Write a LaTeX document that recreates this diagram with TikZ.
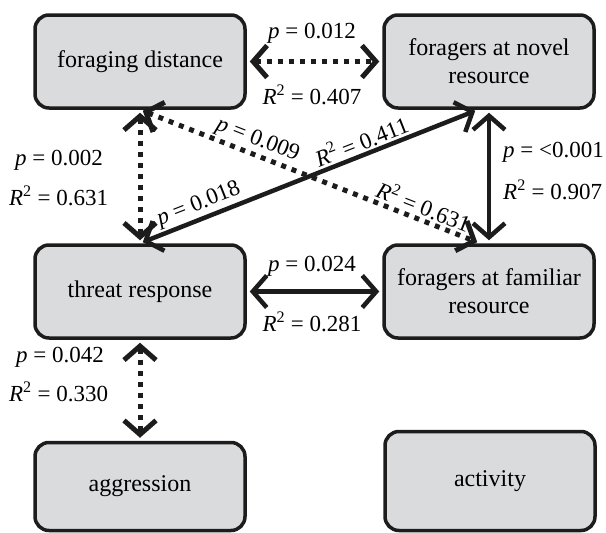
\documentclass[tikz,border=0pt]{standalone}
\usepackage{fontspec}
\setmainfont{Liberation Serif}
\usetikzlibrary{arrows.meta}
\definecolor{boxgray}{HTML}{DADBDD}
\definecolor{inkblack}{HTML}{1C1C1C}
\tikzset{
  pa/box/.style={draw=inkblack, line width=3.5pt, fill=boxgray, rounded corners=14pt, minimum width=210pt, minimum height=93pt, align=center, font=\fontsize{24}{28}\selectfont},
  pa/link/.style={line width=4.5pt, draw=inkblack, shorten <=3pt, shorten >=3pt, {Straight Barb[length=14pt,width=32pt]}-{Straight Barb[length=14pt,width=32pt]}},
  pa/dotlink/.style={pa/link, line width=5pt, dash pattern=on 5pt off 6pt},
  pa/stat/.style={font=\fontsize{23}{25}\selectfont, inner sep=1pt},
  pa/slopestat/.style={pa/stat, sloped, above, inner sep=2pt}
}
\newcommand{\pval}[1]{\textit{p} = #1}
\newcommand{\rsq}[1]{\textit{R}\textsuperscript{2} = #1}

\begin{document}
\begin{tikzpicture}[x=1pt,y=-1pt]
  \useasboundingbox (0,0) rectangle (606,533);
  \node[pa/box] (dist) at (140,61.5) {foraging distance};
  \node[pa/box] (novel) at (489,61.5) {foragers at novel\\resource};
  \node[pa/box] (threat) at (140,291.5) {threat response};
  \node[pa/box] (famil) at (489,291.5) {foragers at familiar\\resource};
  \node[pa/box, minimum height=88pt] (aggr) at (140,486.5) {aggression};
  \node[pa/box, minimum height=99pt] (activ) at (490,481) {activity};

  \draw[pa/dotlink] (dist) -- (novel);
  \draw[pa/dotlink] (dist) -- (threat);
  \draw[pa/dotlink] (threat) -- (aggr);
  \draw[pa/link] (novel) -- (famil);
  \draw[pa/link] (threat) -- (famil);
  \draw[pa/link] (threat.north) -- ([xshift=-11pt]novel.south)
    node[pa/slopestat, pos=.19] {\pval{0.018}}
    node[pa/slopestat, pos=.67] {\rsq{0.411}};
  \draw[pa/dotlink] (dist.south) -- ([xshift=-9pt]famil.north)
    node[pa/slopestat, pos=.33] {\pval{0.009}}
    node[pa/slopestat, pos=.82] {\rsq{0.631}};

  \node[pa/stat] (p1) at (312,33) {\pval{0.012}};
  \node[pa/stat] (r1) at (312,95) {\rsq{0.407}};
  \node[pa/stat, anchor=west] (p2) at (14,160) {\pval{0.002}};
  \node[pa/stat, anchor=west] (r2) at (8,196) {\rsq{0.631}};
  \node[pa/stat, anchor=west] (p3) at (502,152) {\pval{<0.001}};
  \node[pa/stat, anchor=west] (r3) at (502,190) {\rsq{0.907}};
  \node[pa/stat] (p4) at (312,266) {\pval{0.024}};
  \node[pa/stat] (r4) at (312,322) {\rsq{0.281}};
  \node[pa/stat, anchor=west] (p5) at (15,357) {\pval{0.042}};
  \node[pa/stat, anchor=west] (r5) at (8,392) {\rsq{0.330}};
\end{tikzpicture}
\end{document}
